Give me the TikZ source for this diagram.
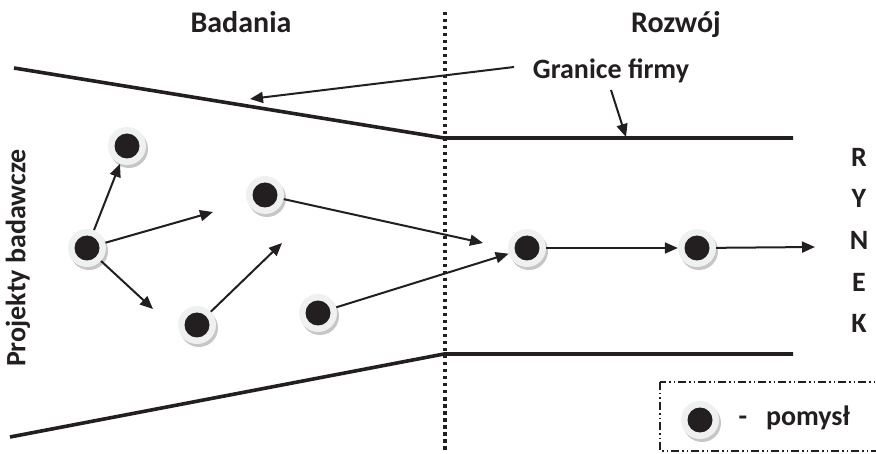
\documentclass[tikz,border=0pt]{standalone}
\usepackage{fontspec}
\setmainfont{Carlito}
\usetikzlibrary{arrows.meta,shadows}
\definecolor{ink}{HTML}{231F20}
\definecolor{ring}{HTML}{EFF1F0}
\definecolor{shade}{HTML}{C6C6C6}

\begin{document}
\begin{tikzpicture}[x=1pt,y=-1pt,
  idea/.style={circle, inner sep=0pt, minimum size=38pt, fill=ring,
    drop shadow={shadow xshift=2pt, shadow yshift=-3pt, fill=shade, opacity=1},
    path picture={\fill[ink] (path picture bounding box.center) circle (12.5pt);}},
  flow/.style={draw=ink, line width=2pt, -{Triangle[length=13pt,width=11pt]}},
  edgeline/.style={draw=ink, line width=3.6pt},
  lbl/.style={font=\bfseries\fontsize{28}{30}\selectfont, text=ink, inner sep=0pt},
  head/.style={lbl, font=\bfseries\fontsize{30}{32}\selectfont, anchor=base},
  ]
\useasboundingbox (0,0) rectangle (876,454);
\fill[white] (0,0) rectangle (876,454);

% headings
\node[head] (badania) at (241,33) {Badania};
\node[head] (rozwoj)  at (676,33) {Rozwój};

% research / development divider
\draw[ink, line width=3.5pt, dash pattern=on 3.5pt off 3.5pt] (445,12) -- (445,453);

% company boundaries
\coordinate (ua) at (14,68);
\coordinate (ub) at (444,138);
\coordinate (uc) at (793,138);
\coordinate (la) at (10,437);
\coordinate (lb) at (444,354);
\coordinate (lc) at (793,354);
\draw[edgeline] (ua) -- (ub) -- (uc);
\draw[edgeline] (la) -- (lb) -- (lc);

% boundary label with pointers
\node[lbl, anchor=base] (granice) at (611,79) {Granice firmy};
\coordinate (g1s) at (514,67);
\coordinate (g1e) at (250,99);
\coordinate (g2s) at (611,90);
\coordinate (g2e) at (626,137);
\draw[flow] (g1s) -- (g1e);
\draw[flow] (g2s) -- (g2e);

% side labels
\node[lbl, rotate=90] (projekty) at (18,258) {Projekty badawcze};
\node[lbl] (r1) at (859,157) {R};
\node[lbl] (r2) at (859,198) {Y};
\node[lbl] (r3) at (859,240) {N};
\node[lbl] (r4) at (859,282) {E};
\node[lbl] (r5) at (859,323) {K};

% ideas
\node[idea] (n1) at (127,146) {};
\node[idea] (n2) at (87,248) {};
\node[idea] (n3) at (265,195) {};
\node[idea] (n4) at (197,325) {};
\node[idea] (n5) at (318,313) {};
\node[idea] (n6) at (527,248) {};
\node[idea] (n7) at (697,248) {};

% loose arrow ends
\coordinate (e2a) at (213,212);
\coordinate (e2b) at (153,309);
\coordinate (e4)  at (282,243);
\coordinate (e3)  at (483,243);
\coordinate (e7)  at (815,247);

\draw[flow] (n2) -- (n1);
\draw[flow] (n2) -- (e2a);
\draw[flow] (n2) -- (e2b);
\draw[flow] (n4) -- (e4);
\draw[flow] (n3) -- (e3);
\draw[flow] (n5) -- (n6);
\draw[flow] (n6) -- (n7);
\draw[flow] (n7) -- (e7);

% legend
\draw[ink, line width=1.8pt, dash pattern=on 8pt off 3pt on 1.5pt off 3pt on 1.5pt off 3pt]
  (660,382) rectangle (884,451);
\node[idea] (key) at (700,420) {};
\node[lbl, anchor=base] (dash) at (743,425) {-};
\node[lbl, anchor=base] (pomysl) at (808,425) {pomysł};
\end{tikzpicture}
\end{document}
